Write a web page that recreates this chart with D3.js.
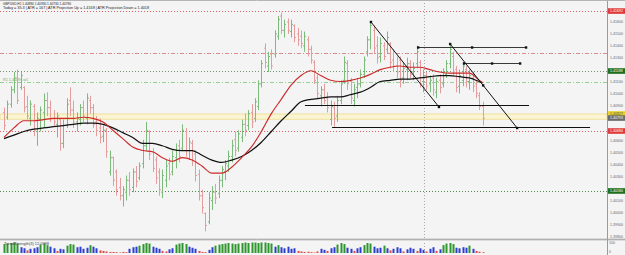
<!DOCTYPE html>
<html>
<head>
<meta charset="utf-8">
<script src="https://cdn.jsdelivr.net/npm/d3@7/dist/d3.min.js"></script>
<style>
body { margin: 0; background: #f4f4f4; }
svg { display: block; }
text { font-family: "Liberation Sans", "DejaVu Sans", sans-serif; }
</style>
</head>
<body>
<svg id="chart" width="625" height="255"></svg>
<script>
var symbol = 'GBPUSD,H1';

var barOpen = [1.4084,1.4080,1.4091,1.4103,1.4113,1.4105,1.4105,1.4089,1.4079,1.4089,
    1.4068,1.4078,1.4084,1.4094,1.4088,1.4079,1.4074,1.4078,1.4058,1.4073,
    1.4094,1.4086,1.4076,1.4078,1.4088,1.4079,1.4094,1.4088,1.4076,1.4071,
    1.4064,1.4069,1.4034,1.4046,1.4034,1.4021,1.4014,1.4017,1.4027,1.4021,
    1.4034,1.4029,1.4041,1.4056,1.4068,1.4051,1.4044,1.4034,1.4017,1.4027,
    1.4041,1.4034,1.4046,1.4056,1.4054,1.4068,1.4052,1.4058,1.4049,1.4032,
    1.4014,1.3999,1.3992,1.4010,1.4017,1.4016,1.4027,1.4034,1.4039,1.4047,
    1.4061,1.4054,1.4063,1.4074,1.4073,1.4084,1.4079,1.4089,1.4108,1.4138,
    1.4123,1.4133,1.4133,1.4148,1.4165,1.4153,1.4160,1.4152,1.4157,1.4150,
    1.4148,1.4140,1.4145,1.4137,1.4126,1.4113,1.4098,1.4103,1.4096,1.4078,
    1.4088,1.4081,1.4094,1.4111,1.4125,1.4110,1.4094,1.4105,1.4108,1.4116,
    1.4135,1.4145,1.4153,1.4140,1.4131,1.4140,1.4137,1.4142,1.4128,1.4123,
    1.4128,1.4113,1.4120,1.4125,1.4118,1.4125,1.4126,1.4110,1.4115,1.4108,
    1.4113,1.4101,1.4111,1.4108,1.4116,1.4125,1.4131,1.4120,1.4106,1.4111,
    1.4120,1.4110,1.4113,1.4108,1.4098,1.4089];
var barHigh = [1.4088,1.4094,1.4106,1.4118,1.4120,1.4118,1.4106,1.4098,1.4094,1.4091,
    1.4084,1.4089,1.4100,1.4101,1.4094,1.4086,1.4084,1.4079,1.4078,1.4096,
    1.4105,1.4094,1.4084,1.4091,1.4094,1.4100,1.4098,1.4091,1.4081,1.4079,
    1.4073,1.4071,1.4052,1.4047,1.4036,1.4029,1.4022,1.4031,1.4034,1.4037,
    1.4039,1.4042,1.4061,1.4076,1.4069,1.4054,1.4047,1.4037,1.4036,1.4044,
    1.4046,1.4052,1.4058,1.4061,1.4074,1.4071,1.4063,1.4061,1.4052,1.4036,
    1.4019,1.4000,1.4017,1.4022,1.4024,1.4031,1.4039,1.4044,1.4052,1.4061,
    1.4068,1.4069,1.4078,1.4083,1.4086,1.4091,1.4096,1.4111,1.4128,1.4142,
    1.4135,1.4137,1.4153,1.4165,1.4168,1.4162,1.4163,1.4162,1.4158,1.4155,
    1.4153,1.4152,1.4148,1.4140,1.4128,1.4116,1.4106,1.4108,1.4101,1.4094,
    1.4093,1.4098,1.4111,1.4131,1.4128,1.4113,1.4108,1.4113,1.4120,1.4131,
    1.4148,1.4160,1.4157,1.4148,1.4147,1.4143,1.4152,1.4143,1.4137,1.4131,
    1.4131,1.4126,1.4130,1.4128,1.4126,1.4140,1.4128,1.4120,1.4118,1.4115,
    1.4116,1.4113,1.4116,1.4121,1.4128,1.4142,1.4135,1.4123,1.4120,1.4126,
    1.4123,1.4120,1.4118,1.4111,1.4101,1.4093];
var barLow = [1.4069,1.4078,1.4088,1.4100,1.4091,1.4103,1.4084,1.4078,1.4073,1.4064,
    1.4056,1.4068,1.4071,1.4081,1.4076,1.4073,1.4063,1.4052,1.4054,1.4071,
    1.4081,1.4071,1.4068,1.4073,1.4076,1.4074,1.4083,1.4071,1.4064,1.4058,
    1.4059,1.4046,1.4031,1.4022,1.4014,1.4010,1.4005,1.4010,1.4014,1.4017,
    1.4021,1.4027,1.4037,1.4052,1.4044,1.4034,1.4024,1.4014,1.4012,1.4021,
    1.4027,1.4031,1.4037,1.4042,1.4052,1.4047,1.4044,1.4039,1.4026,1.4010,
    1.3999,1.3984,1.3990,1.4002,1.4007,1.4012,1.4021,1.4027,1.4034,1.4042,
    1.4047,1.4051,1.4059,1.4064,1.4069,1.4071,1.4076,1.4086,1.4105,1.4121,
    1.4118,1.4120,1.4130,1.4145,1.4150,1.4147,1.4150,1.4147,1.4143,1.4140,
    1.4138,1.4135,1.4131,1.4125,1.4108,1.4096,1.4089,1.4091,1.4084,1.4073,
    1.4072,1.4076,1.4091,1.4108,1.4103,1.4091,1.4089,1.4096,1.4105,1.4113,
    1.4131,1.4137,1.4133,1.4125,1.4126,1.4128,1.4133,1.4121,1.4118,1.4113,
    1.4105,1.4108,1.4111,1.4113,1.4111,1.4121,1.4105,1.4101,1.4103,1.4101,
    1.4098,1.4096,1.4100,1.4105,1.4113,1.4121,1.4115,1.4101,1.4100,1.4106,
    1.4105,1.4103,1.4101,1.4096,1.4086,1.4073];
var barClose = [1.4073,1.4091,1.4103,1.4113,1.4094,1.4115,1.4088,1.4081,1.4091,1.4069,
    1.4079,1.4086,1.4094,1.4088,1.4079,1.4076,1.4081,1.4058,1.4073,1.4091,
    1.4086,1.4076,1.4079,1.4088,1.4081,1.4096,1.4088,1.4074,1.4069,1.4063,
    1.4069,1.4051,1.4046,1.4027,1.4019,1.4014,1.4019,1.4027,1.4019,1.4034,
    1.4026,1.4039,1.4056,1.4069,1.4049,1.4037,1.4029,1.4019,1.4031,1.4039,
    1.4032,1.4047,1.4052,1.4047,1.4069,1.4052,1.4059,1.4044,1.4031,1.4014,
    1.4004,1.3989,1.4012,1.4017,1.4012,1.4027,1.4036,1.4041,1.4047,1.4056,
    1.4052,1.4066,1.4074,1.4069,1.4083,1.4076,1.4093,1.4108,1.4125,1.4126,
    1.4131,1.4123,1.4150,1.4162,1.4153,1.4158,1.4153,1.4158,1.4147,1.4145,
    1.4142,1.4148,1.4137,1.4128,1.4111,1.4100,1.4103,1.4094,1.4088,1.4089,
    1.4079,1.4094,1.4108,1.4126,1.4108,1.4096,1.4103,1.4108,1.4116,1.4128,
    1.4145,1.4157,1.4138,1.4130,1.4142,1.4131,1.4147,1.4126,1.4123,1.4118,
    1.4111,1.4121,1.4125,1.4116,1.4121,1.4135,1.4108,1.4115,1.4106,1.4111,
    1.4103,1.4110,1.4105,1.4118,1.4125,1.4137,1.4118,1.4105,1.4115,1.4123,
    1.4110,1.4115,1.4106,1.4100,1.4089,1.4079];

// moving averages, read at every third bar
var maIndex = [0,3,6,9,12,15,18,21,24,27,30,33,36,39,42,45,48,51,54,57,60,63,66,69,72,
    75,78,81,84,87,90,93,96,99,102,105,108,111,114,117,120,123,126,129,132,135,138,141,144,145];
var maFast = [1.4063,1.4071,1.4077,1.4077,1.4078,1.4079,1.4079,1.4079,1.4080,1.4079,
    1.4076,1.4069,1.4062,1.4055,1.4052,1.4051,1.4046,1.4043,1.4046,1.4044,
    1.4039,1.4033,1.4033,1.4038,1.4046,1.4055,1.4068,1.4083,1.4095,1.4107,
    1.4115,1.4119,1.4115,1.4111,1.4110,1.4111,1.4113,1.4116,1.4120,1.4122,
    1.4123,1.4122,1.4122,1.4120,1.4118,1.4117,1.4117,1.4117,1.4111,1.4109];
var maSlow = [1.4062,1.4065,1.4068,1.4070,1.4071,1.4072,1.4073,1.4074,1.4075,1.4075,
    1.4074,1.4071,1.4067,1.4063,1.4058,1.4058,1.4056,1.4053,1.4052,1.4052,
    1.4048,1.4044,1.4042,1.4044,1.4047,1.4052,1.4059,1.4068,1.4077,1.4085,
    1.4093,1.4095,1.4096,1.4097,1.4097,1.4099,1.4101,1.4105,1.4110,1.4111,
    1.4112,1.4112,1.4113,1.4114,1.4115,1.4115,1.4114,1.4113,1.4110,1.4109];

var strength = [85,90,95,100,90,55,45,25,40,45,55,80,90,75,60,45,20,40,35,70,
    85,80,55,60,40,50,75,60,45,25,20,15,10,10,8,5,10,8,40,55,
    60,70,85,95,90,60,50,40,20,15,35,45,80,90,95,85,60,50,40,20,
    10,8,30,55,70,80,85,90,95,90,85,90,95,100,95,100,100,95,100,100,
    95,90,60,75,55,45,60,40,45,20,15,10,12,8,5,15,40,30,20,45,
    55,80,95,85,50,40,20,45,55,75,95,90,60,45,50,70,45,25,40,55,
    45,15,35,50,40,20,45,30,15,40,55,20,35,75,90,95,85,50,45,55,
    50,70,40,20,12,8];

var priceTicks = [1.3980,1.3990,1.4000,1.4010,1.4020,1.4030,1.4040,1.4050,1.4060,1.4070,
    1.4080,1.4090,1.4100,1.4110,1.4120,1.4130,1.4140,1.4150,1.4160];

var levelPrices = [1.41692, 1.41339, 1.41188, 1.41096, 1.40684, 1.40180];
var levelColors = ['#d86060', '#dc8c8c', '#6f946f', '#96cf96', '#d86060', '#4f8a4f'];
var levelDash = ['1,2', '4,2,1,2', '1,2', '4,2,1,2', '1,2', '1,2'];
var boxPrices = [1.41692, 1.41188, 1.40827, 1.40793, 1.40684, 1.40180];
var boxColors = ['#e03a3a', '#1f6f1f', '#e8d22a', '#6b6b6b', '#e03a3a', '#1f6f1f'];
var zonePrices = [1.40827, 1.40783];
var separatorBar = 127.3;

// drawn objects: bar index / price pairs
var trendLines = [
    {i1: 111.2, p1: 1.41600, i2: 131.8, p2: 1.40886, mids: []},
    {i1: 135.2, p1: 1.41415, i2: 155.5, p2: 1.40709, mids: [145.2]}
];
var hLines = [
    {i1: 91.2, i2: 159.1, p: 1.40903, color: '#111', width: 1.2, dots: false},
    {i1: 99.4, i2: 177.6, p: 1.40718, color: '#111', width: 1.2, dots: false},
    {i1: 125.5, i2: 158.2, p: 1.41390, color: '#3a3a3a', width: 1, dots: true},
    {i1: 139.4, i2: 156.4, p: 1.41255, color: '#3a3a3a', width: 1, dots: true}
];

var W = 625, H = 255, plotRight = 607;
var svg = d3.select('#chart');

var x = d3.scaleLinear().domain([0, 145]).range([4, 482.5]);
var y = d3.scaleLinear().domain([1.3980, 1.4160]).range([236.2, 22]);
var hy = d3.scaleLinear().domain([0, 100]).range([253, 242.5]);
var fmt = d3.format('.5f');

svg.append('rect').attr('width', W).attr('height', H).attr('fill', '#f4f4f4');

// yellow zone
svg.append('rect')
    .attr('x', 0).attr('width', plotRight)
    .attr('y', y(zonePrices[0])).attr('height', y(zonePrices[1]) - y(zonePrices[0]))
    .attr('fill', '#fbf4d2').attr('stroke', '#efdc8c').attr('stroke-width', 0.8);

var levels = svg.append('g');
levels.selectAll('line').data(levelPrices).enter().append('line')
    .attr('x1', 0).attr('x2', plotRight)
    .attr('y1', function (d) { return Math.round(y(d)) + 0.5; })
    .attr('y2', function (d) { return Math.round(y(d)) + 0.5; })
    .attr('stroke', function (d, i) { return levelColors[i]; })
    .attr('stroke-dasharray', function (d, i) { return levelDash[i]; })
    .attr('stroke-width', 1);

svg.append('text').attr('x', 3).attr('y', 80.5)
    .attr('font-size', 4).attr('fill', '#6aa86a')
    .attr('textLength', 25).attr('lengthAdjust', 'spacingAndGlyphs')
    .text('R1 ' + fmt(levelPrices[3]) + ' w1');

svg.append('line')
    .attr('x1', Math.round(x(separatorBar)) + 0.5).attr('x2', Math.round(x(separatorBar)) + 0.5)
    .attr('y1', 0).attr('y2', H)
    .attr('stroke', '#aaa').attr('stroke-dasharray', '1,2');

// bars
var bars = svg.append('g').selectAll('g').data(barOpen).enter().append('g')
    .attr('stroke', function (d, i) { return barClose[i] >= d ? '#7dbb7d' : '#e59c9c'; })
    .attr('stroke-width', 1);
bars.append('line')
    .attr('x1', function (d, i) { return Math.round(x(i)) + 0.5; })
    .attr('x2', function (d, i) { return Math.round(x(i)) + 0.5; })
    .attr('y1', function (d, i) { return y(barHigh[i]); })
    .attr('y2', function (d, i) { return y(barLow[i]); });
bars.append('line')
    .attr('x1', function (d, i) { return Math.round(x(i)) - 1; })
    .attr('x2', function (d, i) { return Math.round(x(i)); })
    .attr('y1', function (d) { return y(d); })
    .attr('y2', function (d) { return y(d); });
bars.append('line')
    .attr('x1', function (d, i) { return Math.round(x(i)) + 1; })
    .attr('x2', function (d, i) { return Math.round(x(i)) + 2; })
    .attr('y1', function (d, i) { return y(barClose[i]); })
    .attr('y2', function (d, i) { return y(barClose[i]); });

var maLine = function (values) {
    return d3.line()
        .x(function (d, i) { return x(maIndex[i]); })
        .y(function (d) { return y(d); })
        .curve(d3.curveMonotoneX)(values);
};
svg.append('path').attr('d', maLine(maSlow)).attr('fill', 'none')
    .attr('stroke', '#111').attr('stroke-width', 1.25);
svg.append('path').attr('d', maLine(maFast)).attr('fill', 'none')
    .attr('stroke', '#cc2a2a').attr('stroke-width', 1.15);

// drawn objects
var objs = svg.append('g');
var dot = function (cx, cy) {
    objs.append('rect').attr('x', cx - 1.2).attr('y', cy - 1.2)
        .attr('width', 2.4).attr('height', 2.4).attr('fill', '#111');
};
hLines.forEach(function (l) {
    var yy = Math.round(y(l.p)) + 0.5;
    objs.append('line').attr('x1', x(l.i1)).attr('x2', x(l.i2))
        .attr('y1', yy).attr('y2', yy)
        .attr('stroke', l.color).attr('stroke-width', l.width);
    if (l.dots) {
        dot(x(l.i1), yy); dot((x(l.i1) + x(l.i2)) / 2, yy); dot(x(l.i2), yy);
    }
});
trendLines.forEach(function (l) {
    objs.append('line').attr('x1', x(l.i1)).attr('y1', y(l.p1))
        .attr('x2', x(l.i2)).attr('y2', y(l.p2))
        .attr('stroke', '#111').attr('stroke-width', 1);
    dot(x(l.i1), y(l.p1));
    dot(x(l.i2), y(l.p2));
    l.mids.forEach(function (m) {
        var t = (m - l.i1) / (l.i2 - l.i1);
        dot(x(m), y(l.p1 + t * (l.p2 - l.p1)));
    });
});

// header
var last = barOpen.length - 1;
svg.append('text').attr('x', 3).attr('y', 4.6).attr('font-size', 4.4).attr('fill', '#222')
    .attr('textLength', 68).attr('lengthAdjust', 'spacingAndGlyphs')
    .text(symbol + '  ' + fmt(barOpen[last]) + ' ' + fmt(barHigh[last]) + ' ' +
        fmt(barLow[last]) + ' ' + fmt(barClose[last]));
svg.append('text').attr('x', 3).attr('y', 9).attr('font-size', 4.4).attr('fill', '#222')
    .attr('textLength', 146).attr('lengthAdjust', 'spacingAndGlyphs')
    .text('Today = 35.3  |  ATR = 167  |  ATR Projection Up = ' + levelPrices[0].toFixed(4) +
        '  |  ATR Projection Down = ' + levelPrices[5].toFixed(4));

// lower panel
svg.append('rect').attr('x', 0).attr('y', 238).attr('width', W).attr('height', 3)
    .attr('fill', '#dcdcdc');
svg.append('line').attr('x1', 0).attr('x2', W).attr('y1', 239.5).attr('y2', 239.5)
    .attr('stroke', '#b0b0b0');
svg.append('g').selectAll('rect').data(strength).enter().append('rect')
    .attr('x', function (d, i) { return Math.round(x(i)) - 0.5; })
    .attr('width', 2)
    .attr('y', function (d) { return hy(d); })
    .attr('height', function (d) { return hy(0) - hy(d); })
    .attr('fill', function (d) { return d >= 70 ? '#2f962f' : (d >= 28 ? '#2c3fcf' : '#e04b4b'); });
svg.append('text').attr('x', 4).attr('y', 244.5).attr('font-size', 3.6).attr('fill', '#444')
    .attr('textLength', 45).attr('lengthAdjust', 'spacingAndGlyphs')
    .text('TrendStrength(3) 12.0998');

// price axis
svg.append('line').attr('x1', plotRight + 0.5).attr('x2', plotRight + 0.5)
    .attr('y1', 0).attr('y2', H).attr('stroke', '#9a9a9a');
svg.append('line').attr('x1', 0).attr('x2', W).attr('y1', 0.5).attr('y2', 0.5)
    .attr('stroke', '#b5b5b5');

var visibleTicks = priceTicks.filter(function (t) {
    return boxPrices.every(function (b) { return Math.abs(y(b) - y(t)) > 5; });
});
var axis = svg.append('g').attr('font-size', 3.6).attr('fill', '#666');
axis.selectAll('text').data(visibleTicks).enter().append('text')
    .attr('x', 610).attr('y', function (d) { return y(d) + 1.3; })
    .text(function (d) { return fmt(d); });
axis.append('text').attr('x', 609).attr('y', hy(100) + 1).text('100');
axis.append('text').attr('x', 609).attr('y', hy(0)).text('0');

var boxes = svg.append('g').selectAll('g').data(boxPrices).enter().append('g');
boxes.append('rect')
    .attr('x', 608).attr('width', 17)
    .attr('y', function (d) { return y(d) - 2.8; }).attr('height', 5.6)
    .attr('fill', function (d, i) { return boxColors[i]; });
boxes.append('text')
    .attr('x', 610).attr('y', function (d) { return y(d) + 1.3; })
    .attr('font-size', 3.6)
    .attr('fill', function (d, i) { return i === 2 ? '#555' : '#fff'; })
    .text(function (d) { return fmt(d); });
</script>
</body>
</html>
